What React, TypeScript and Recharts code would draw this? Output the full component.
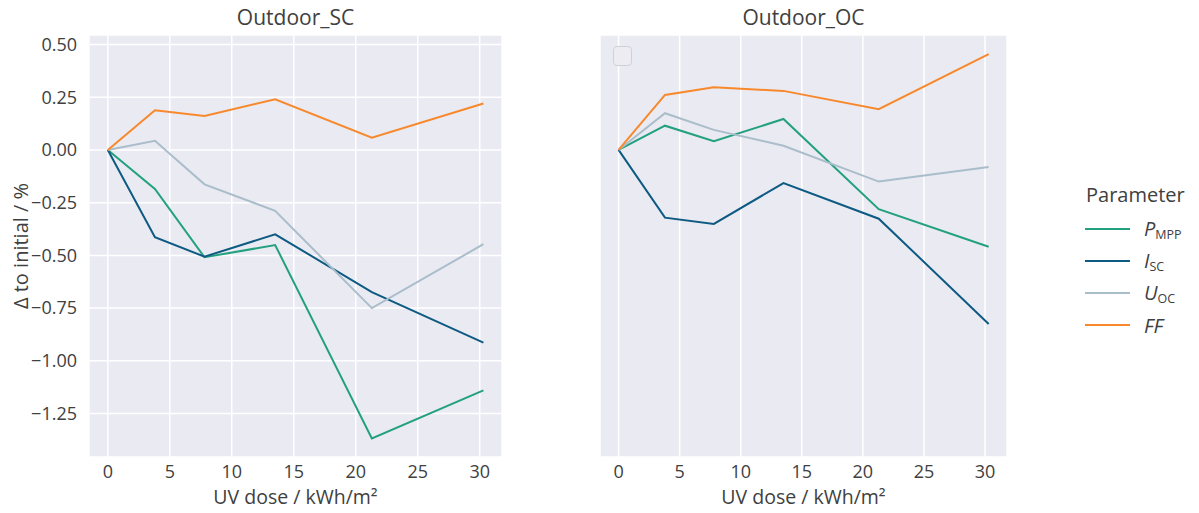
import React from 'react';
import { LineChart, Line, XAxis, YAxis, CartesianGrid } from 'recharts';

const doses = [0, 3.8, 7.8, 13.5, 21.3, 30.3];

const scPmpp = [0, -0.185, -0.509, -0.451, -1.368, -1.14];
const scIsc = [0, -0.414, -0.506, -0.4, -0.674, -0.914];
const scUoc = [0, 0.043, -0.163, -0.289, -0.75, -0.447];
const scFf = [0, 0.188, 0.161, 0.24, 0.058, 0.22];

const ocPmpp = [0, 0.115, 0.041, 0.147, -0.281, -0.459];
const ocIsc = [0, -0.321, -0.351, -0.157, -0.326, -0.825];
const ocUoc = [0, 0.174, 0.095, 0.02, -0.15, -0.081];
const ocFf = [0, 0.261, 0.297, 0.28, 0.193, 0.454];

const xTicks = [0, 5, 10, 15, 20, 25, 30];
const yTicks = [-1.25, -1, -0.75, -0.5, -0.25, 0, 0.25, 0.5];

const SERIES = [
  { key: 'pmpp', sym: 'P', sub: 'MPP', color: '#22a07f' },
  { key: 'isc', sym: 'I', sub: 'SC', color: '#0d5a82' },
  { key: 'uoc', sym: 'U', sub: 'OC', color: '#a9bdca' },
  { key: 'ff', sym: 'FF', sub: '', color: '#f7892c' },
];

const FONT = '"Open Sans", "Noto Sans", sans-serif';
const TEXT = '#404040';

function buildRows(p: number[], i: number[], u: number[], f: number[]) {
  return doses.map((d, k) => ({ dose: d, pmpp: p[k], isc: i[k], uoc: u[k], ff: f[k] }));
}

const scRows = buildRows(scPmpp, scIsc, scUoc, scFf);
const ocRows = buildRows(ocPmpp, ocIsc, ocUoc, ocFf);

const fmtY = (v: number) => (v < 0 ? '\u2212' + Math.abs(v).toFixed(2) : v.toFixed(2));

function Panel({ rows, showY, width, left }: { rows: any[]; showY: boolean; width: number; left: number }) {
  return (
    <div style={{ position: 'absolute', left, top: 0 }}>
      <LineChart
        width={width}
        height={513}
        data={rows}
        margin={{ top: 35, right: 8, bottom: 0, left: showY ? 0 : 10 }}
      >
        <CartesianGrid fill="#eaeaf2" stroke="#ffffff" strokeWidth={1.5} />
        <XAxis
          dataKey="dose"
          type="number"
          domain={[-1.52, 31.8]}
          ticks={xTicks}
          allowDataOverflow
          axisLine={false}
          tickLine={false}
          height={56}
          tickMargin={2}
          tick={{ fill: TEXT, fontSize: 18, fontFamily: FONT }}
        />
        <YAxis
          type="number"
          domain={[-1.456, 0.545]}
          ticks={yTicks}
          allowDataOverflow
          axisLine={false}
          tickLine={false}
          width={showY ? 89 : 0}
          tick={showY ? { fill: TEXT, fontSize: 18, fontFamily: FONT } : false}
          tickFormatter={fmtY}
          tickMargin={6}
        />
        {SERIES.map(s => (
          <Line
            key={s.key}
            dataKey={s.key}
            stroke={s.color}
            strokeWidth={2}
            dot={false}
            isAnimationActive={false}
          />
        ))}
      </LineChart>
    </div>
  );
}

export default function App() {
  return (
    <div style={{ position: 'absolute', left: 0, top: 0, width: 1199, height: 513, background: '#fff', fontFamily: FONT, color: TEXT }}>
      <Panel rows={scRows} showY width={510} left={0} />
      <Panel rows={ocRows} showY={false} width={425} left={590} />

      <div style={{ position: 'absolute', left: 89, width: 413, top: 3, textAlign: 'center', fontSize: 21 }}>Outdoor_SC</div>
      <div style={{ position: 'absolute', left: 600, width: 407, top: 3, textAlign: 'center', fontSize: 21 }}>Outdoor_OC</div>

      <div style={{ position: 'absolute', left: 89, width: 413, top: 484, lineHeight: '26px', textAlign: 'center', fontSize: 19.5 }}>
        UV dose / kWh/m²
      </div>
      <div style={{ position: 'absolute', left: 600, width: 407, top: 484, lineHeight: '26px', textAlign: 'center', fontSize: 19.5 }}>
        UV dose / kWh/m²
      </div>

      <div
        style={{
          position: 'absolute',
          left: 20,
          top: 246,
          transform: 'translate(-50%, -50%) rotate(-90deg)',
          whiteSpace: 'nowrap',
          fontSize: 20,
        }}
      >
        {'\u0394 to initial / %'}
      </div>

      <div
        style={{
          position: 'absolute',
          left: 613,
          top: 46,
          width: 17,
          height: 18,
          border: '1.5px solid #d0d0d4',
          borderRadius: 4,
          background: '#ececf2',
        }}
      />

      <div style={{ position: 'absolute', left: 1086, top: 181, fontSize: 20 }}>Parameter</div>
      {SERIES.map((s, k) => (
        <div key={s.key} style={{ position: 'absolute', left: 1085, top: 229 + k * 32 - 14, height: 28, display: 'flex', alignItems: 'center' }}>
          <div style={{ width: 45, height: 2, background: s.color }} />
          <div style={{ marginLeft: 14, fontSize: 20, whiteSpace: 'nowrap' }}>
            <i>{s.sym}</i>
            {s.sub && <sub style={{ fontSize: 12.5, verticalAlign: '-3px' }}>{s.sub}</sub>}
          </div>
        </div>
      ))}
    </div>
  );
}
